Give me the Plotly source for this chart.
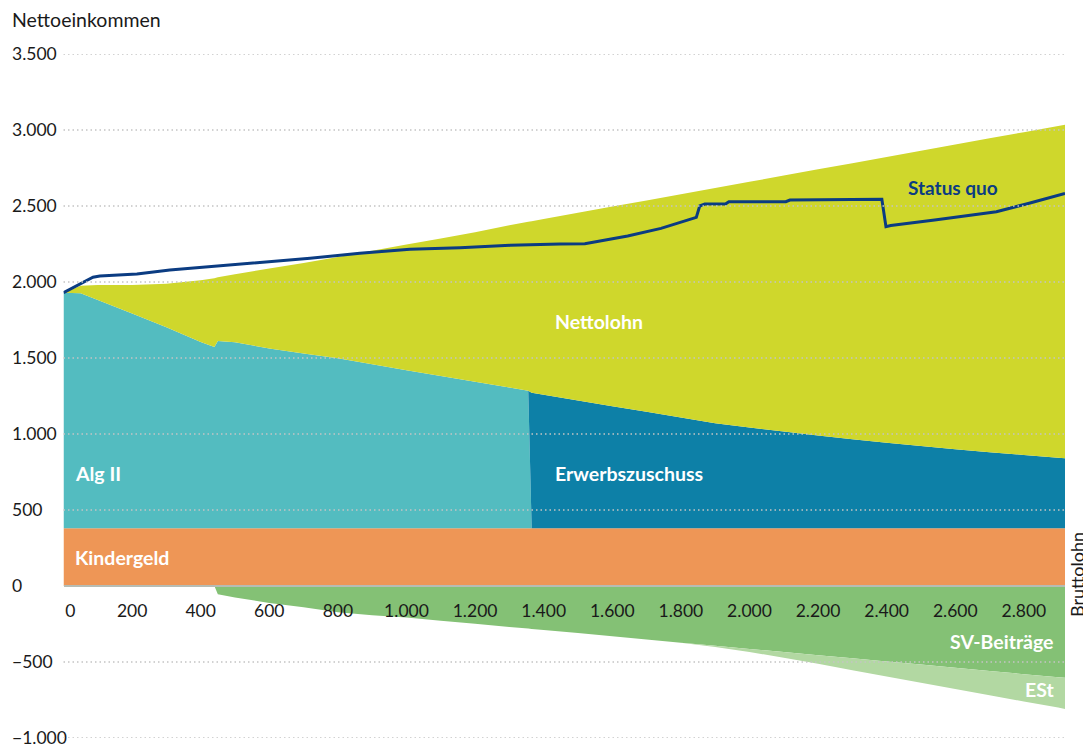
import plotly.graph_objects as go

# ---------------- data ----------------
bruttolohn = [0, 50, 100, 200, 300, 400, 440, 450, 500, 600, 700, 800, 900, 1000,
              1100, 1200, 1300, 1355, 1365, 1400, 1500, 1600, 1700, 1800, 1900, 2000,
              2100, 2200, 2300, 2400, 2500, 2600, 2700, 2800, 2900, 2920]

kindergeld = [380] * 36

alg2 = [1550, 1546, 1502, 1412, 1322, 1226, 1192, 1232, 1224, 1183, 1150, 1118, 1079, 1039,
        1001, 964, 926, 905, 0, 0, 0, 0, 0, 0, 0, 0,
        0, 0, 0, 0, 0, 0, 0, 0, 0, 0]

erwerbszuschuss = [0, 0, 0, 0, 0, 0, 0, 0, 0, 0, 0, 0, 0, 0,
                   0, 0, 0, 0, 892, 879, 841, 802, 766, 728, 691, 662,
                   636, 610, 585, 563, 541, 519, 500, 482, 463, 460]

nettolohn = [0, 50, 99, 189, 286, 406, 452, 420, 447, 526, 595, 667, 747, 827,
             905, 984, 1068, 1111, 1128, 1155, 1234, 1314, 1391, 1470, 1548, 1617,
             1684, 1751, 1817, 1880, 1943, 2005, 2065, 2124, 2184, 2195]

sv_beitraege = [0, 0, 0, 0, 0, 0, 0, -55, -75, -112, -140, -172, -192, -207,
                -228, -248, -269, -280, -283, -290, -310, -331, -352, -373, -393, -414,
                -435, -455, -476, -497, -517, -538, -559, -580, -600, -604]

est = [0, 0, 0, 0, 0, 0, 0, 0, 0, 0, 0, 0, 0, 0,
       0, 0, 0, 0, 0, 0, 0, 0, 0, 0, -8, -20,
       -37, -57, -78, -99, -120, -140, -160, -180, -200, -205]

status_quo_x = [0, 86, 106, 214, 310, 427, 573, 719, 864, 1010, 1156, 1302, 1448, 1520,
                1645, 1742, 1845, 1855, 1870, 1930, 1940, 2106, 2118, 2386, 2398, 2412,
                2540, 2640, 2720, 2810, 2880, 2920]
status_quo_y = [1930, 2031, 2039, 2053, 2079, 2101, 2127, 2156, 2189, 2215, 2226, 2241, 2250, 2252,
                2303, 2353, 2425, 2500, 2513, 2513, 2528, 2528, 2539, 2544, 2364, 2372,
                2408, 2436, 2462, 2515, 2558, 2582]

x_ticks = list(range(0, 2801, 200))
x_ticktext = ["\u00a0\u00a0\u00a00", "200", "400", "600", "800", "1.000", "1.200", "1.400",
              "1.600", "1.800", "2.000", "2.200", "2.400", "2.600", "2.800"]
y_ticks = [-1000, -500, 0, 500, 1000, 1500, 2000, 2500, 3000, 3500]

# ---------------- styling ----------------
FONT = "Source Sans Pro, Lato, sans-serif"
C_KG = "#ee9656"
C_ALG = "#53bcc0"
C_ERW = "#0d80a7"
C_NET = "#cfd72c"
C_SV = "#84c175"
C_EST = "#b2d8a2"
C_SQ = "#0b3c82"
C_TXT = "#1a1a1a"

W, H = 1091, 748
OFF = 8  # page body margin of the html page
ML, MR, MT, MB = 0, 26 + OFF, 54 - OFF, 10 + OFF
plot_w = W - ML - MR
plot_h = H - MT - MB
x_dom0 = (63.5 - OFF - ML) / plot_w

fig = go.Figure()

def area(y, color, group, name):
    fig.add_trace(go.Scatter(
        x=bruttolohn, y=y, stackgroup=group, mode="none", name=name,
        fillcolor=color, line=dict(width=0), hoverinfo="skip", showlegend=False))

area(kindergeld, C_KG, "pos", "Kindergeld")
area(alg2, C_ALG, "pos", "Alg II")
area(erwerbszuschuss, C_ERW, "pos", "Erwerbszuschuss")
area(nettolohn, C_NET, "pos", "Nettolohn")
area(sv_beitraege, C_SV, "neg", "SV-Beiträge")
area(est, C_EST, "neg", "ESt")

fig.add_trace(go.Scatter(
    x=status_quo_x, y=status_quo_y, mode="lines", name="Status quo",
    line=dict(color=C_SQ, width=3), showlegend=False, hoverinfo="skip"))

# dotted grid lines drawn above the areas
shapes = []
for v in y_ticks:
    if v == 0:
        continue
    shapes.append(dict(type="line", xref="x domain", x0=0, x1=1, yref="y", y0=v, y1=v,
                       line=dict(color="#c4c4c4", width=1.5, dash="1.5px,3px"), layer="above"))

ann_font = dict(family=FONT, size=19.5, color="white")
annotations = [
    dict(x=1427, y=1743, text="<b>Nettolohn</b>", showarrow=False, font=ann_font, xanchor="left"),
    dict(x=27, y=743, text="<b>Alg II</b>", showarrow=False, font=ann_font, xanchor="left"),
    dict(x=1427, y=743, text="<b>Erwerbszuschuss</b>", showarrow=False, font=ann_font, xanchor="left"),
    dict(x=27, y=186, text="<b>Kindergeld</b>", showarrow=False, font=ann_font, xanchor="left"),
    dict(x=2893, y=-362, text="<b>SV-Beiträge</b>", showarrow=False, font=ann_font, xanchor="right"),
    dict(x=2893, y=-684, text="<b>ESt</b>", showarrow=False, font=ann_font, xanchor="right"),
    dict(x=2593, y=2625, text="<b>Status quo</b>", showarrow=False,
         font=dict(family=FONT, size=19, color=C_SQ)),
    dict(xref="paper", x=(1077 - OFF - ML) / plot_w, xanchor="center", yref="y", y=72,
         yanchor="middle", text="Bruttolohn",
         textangle=-90, showarrow=False, font=dict(family=FONT, size=18, color=C_TXT)),
    dict(xref="paper", x=(10 - OFF - ML) / plot_w, xanchor="left",
         yref="paper", y=1 + (MT - (20 - OFF)) / plot_h, yanchor="middle",
         text="Nettoeinkommen", showarrow=False, font=dict(family=FONT, size=19.5, color=C_TXT)),
]

fig.update_layout(
    width=W, height=H,
    margin=dict(l=ML, r=MR, t=MT, b=MB, autoexpand=False),
    paper_bgcolor="white", plot_bgcolor="white",
    separators=",.",
    font=dict(family=FONT, size=17, color=C_TXT),
    shapes=shapes,
    annotations=annotations,
    xaxis=dict(range=[0, 2920], domain=[x_dom0, 1], anchor="free", position=1000 / 4500,
               automargin=False,
               showgrid=False, zeroline=False, showline=True, linecolor="#b6bcb4", linewidth=2,
               tickvals=x_ticks, ticktext=x_ticktext, ticks="outside", ticklen=9,
               tickcolor="rgba(0,0,0,0)", tickfont=dict(family=FONT, size=17.5, color=C_TXT)),
    yaxis=dict(range=[-1000, 3500], domain=[0, 1], anchor="free", position=0, automargin=False,
               showgrid=False, zeroline=False,
               showline=False, tickvals=y_ticks, tickformat=",d",
               ticklabelposition="inside", ticklabeloverflow="allow", ticks="",
               tickfont=dict(family=FONT, size=17.5, color=C_TXT)),
)

fig.write_html("out.html")
